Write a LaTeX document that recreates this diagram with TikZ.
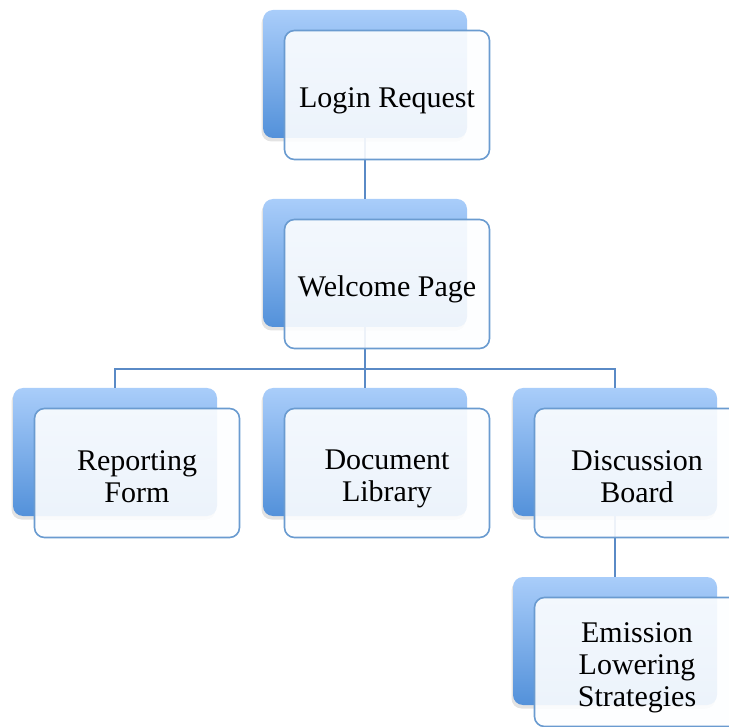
\documentclass[tikz,border=0pt]{standalone}
\usepackage{fontspec}
\setmainfont{Liberation Serif}
\usetikzlibrary{positioning, shadows}

\definecolor{tileTop}{HTML}{A9CDFA}
\definecolor{tileBot}{HTML}{5391DA}
\definecolor{cardFill}{HTML}{FDFEFF}
\definecolor{cardLine}{HTML}{6A9BD0}
\definecolor{linkLine}{HTML}{5A8AC6}

% struts for the first and the last line of a card text
\newcommand{\topstrut}{\rule{0pt}{32pt}}
\newcommand{\botstrut}{\rule[-5pt]{0pt}{5pt}}

\begin{document}
\begin{tikzpicture}[%
	x=1pt, y=1pt,
	every node/.style={font=\fontsize{30}{32}\selectfont},
	node distance=189pt and 250pt, % Grid spacing of the tiles
	on grid,                        % Distances are centre to centre
	]
	% -------------------------------------------------
	% Tile and card styles
	\tikzset{
		tile/.style={rectangle, rounded corners=10pt, minimum width=204pt, minimum height=128pt,
			top color=tileTop, bottom color=tileBot,
			drop shadow={shadow xshift=-1.5pt, shadow yshift=-3.5pt, opacity=.22}},
		card/.style={rectangle, rounded corners=10pt, minimum width=205pt, minimum height=129pt,
			draw=cardLine, line width=1.6pt, fill=cardFill, fill opacity=.9, text opacity=1,
			align=center},
		% card sits down and right of its tile
		cardpos/.style={below right=21pt and 22pt of #1},
		link/.style={draw=linkLine, line width=1.5pt},
	}
	\useasboundingbox (0,0) rectangle (729,-727);

	% -------------------------------------------------
	% Tiles behind the cards
	\node[tile] at (365,-74)		(login)		{};
	\node[tile, below=of login]		(welcome)	{};
	\node[tile, below=of welcome]	(doclib)	{};
	\node[tile, left=of doclib]		(report)	{};
	\node[tile, right=of doclib]	(disc)		{};
	\node[tile, below=of disc]		(emis)		{};

	% -------------------------------------------------
	% Connectors
	\coordinate[above=19pt of doclib.north] (bus);
	\draw[link] (login) -- (welcome);
	\draw[link] (welcome) -- (bus) -- (doclib);
	\draw[link] (bus) -| (report);
	\draw[link] (bus) -| (disc);
	\draw[link] (disc) -- (emis);

	% -------------------------------------------------
	% Cards with the texts
	\node[card, cardpos=login]		(loginCard)		{\topstrut Login Request\botstrut};
	\node[card, cardpos=welcome]	(welcomeCard)	{\topstrut Welcome Page\botstrut};
	\node[card, cardpos=report]		(reportCard)	{\topstrut Reporting\\Form\botstrut};
	\node[card, cardpos=doclib]		(doclibCard)	{\topstrut Document\\Library\botstrut};
	\node[card, cardpos=disc]		(discCard)		{\topstrut Discussion\\Board\botstrut};
	\node[card, cardpos=emis]		(emisCard)		{\topstrut Emission\\Lowering\\Strategies\botstrut};

\end{tikzpicture}
\end{document}
